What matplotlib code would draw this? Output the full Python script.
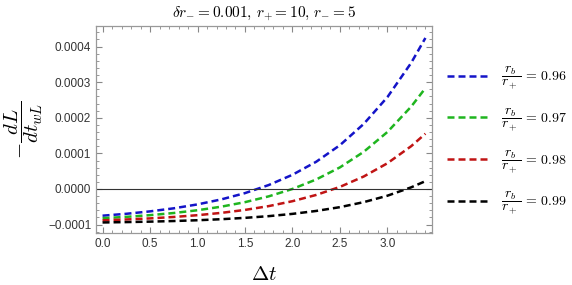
import numpy as np
import matplotlib
matplotlib.use("Agg")
import matplotlib.pyplot as plt
from matplotlib.ticker import MultipleLocator, FuncFormatter

plt.rcParams['mathtext.fontset'] = 'cm'

# values, in units of 1e-4
dt = [0.0, 0.25, 0.5, 0.75, 1.0, 1.25, 1.5, 1.75, 2.0, 2.25, 2.5, 2.75, 3.0, 3.25, 3.4]
blue_096 = [-0.750, -0.697, -0.629, -0.543, -0.433, -0.293, -0.116, 0.111, 0.399, 0.765, 1.231, 1.826, 2.581, 3.542, 4.242]
green_097 = [-0.820, -0.783, -0.735, -0.675, -0.597, -0.497, -0.370, -0.207, 0.001, 0.267, 0.607, 1.043, 1.601, 2.313, 2.833]
red_098 = [-0.880, -0.856, -0.826, -0.786, -0.736, -0.671, -0.588, -0.481, -0.343, -0.167, 0.059, 0.350, 0.723, 1.202, 1.553]
black_099 = [-0.940, -0.930, -0.917, -0.900, -0.878, -0.849, -0.811, -0.763, -0.699, -0.617, -0.510, -0.370, -0.189, 0.046, 0.220]

ratios = ["0.96", "0.97", "0.98", "0.99"]
colors = ["#1414c8", "#1fb51f", "#c01414", "#000000"]

fig = plt.figure(figsize=(5.72, 2.85), dpi=100)
ax = fig.add_axes([0.168, 0.182, 0.587, 0.727])

t = np.array(dt)
for ys, r, c in zip([blue_096, green_097, red_098, black_099], ratios, colors):
    ax.plot(t, np.array(ys) * 1e-4, color=c, lw=1.8, dashes=(2.8, 1.6),
            label=r"$\dfrac{r_b}{r_+}\,=\,%s$" % r)

ax.axhline(0, color="#333333", lw=0.8)

ax.set_xlim(-0.068, 3.468)
ax.set_ylim(-1.24e-4, 4.58e-4)

ax.xaxis.set_major_locator(MultipleLocator(0.5))
ax.xaxis.set_minor_locator(MultipleLocator(0.1))
ax.yaxis.set_major_locator(MultipleLocator(1e-4))
ax.yaxis.set_minor_locator(MultipleLocator(2e-5))
ax.yaxis.set_major_formatter(FuncFormatter(lambda v, p: ("%.4f" % v).replace("-", "\u2212")))
ax.xaxis.set_major_formatter(FuncFormatter(lambda v, p: "%.1f" % v))

ax.tick_params(which="both", direction="in", top=True, right=True, colors="#888888",
               labelcolor="#333333", labelsize=8.5)
ax.tick_params(which="major", length=4, width=0.8)
ax.tick_params(which="minor", length=2, width=0.6)
for s in ax.spines.values():
    s.set_color("#999999")
    s.set_linewidth(0.9)
for lab in ax.get_xticklabels() + ax.get_yticklabels():
    lab.set_family("Liberation Sans")

ax.set_title(r"$\delta r_{-} = 0.001,\, r_{+} = 10,\, r_{-} = 5$", fontsize=11, pad=6)
ax.set_xlabel(r"$\Delta t$", fontsize=15, labelpad=10)
ax.set_ylabel(r"$-\dfrac{dL}{dt_{wL}}$", fontsize=15, labelpad=2)

leg = ax.legend(loc="center left", bbox_to_anchor=(1.045, 0.45), frameon=False,
                borderpad=0, borderaxespad=0,
                fontsize=10, handlelength=3.0, handletextpad=0.9, labelspacing=1.0)

fig.savefig("out.png", dpi=100)
